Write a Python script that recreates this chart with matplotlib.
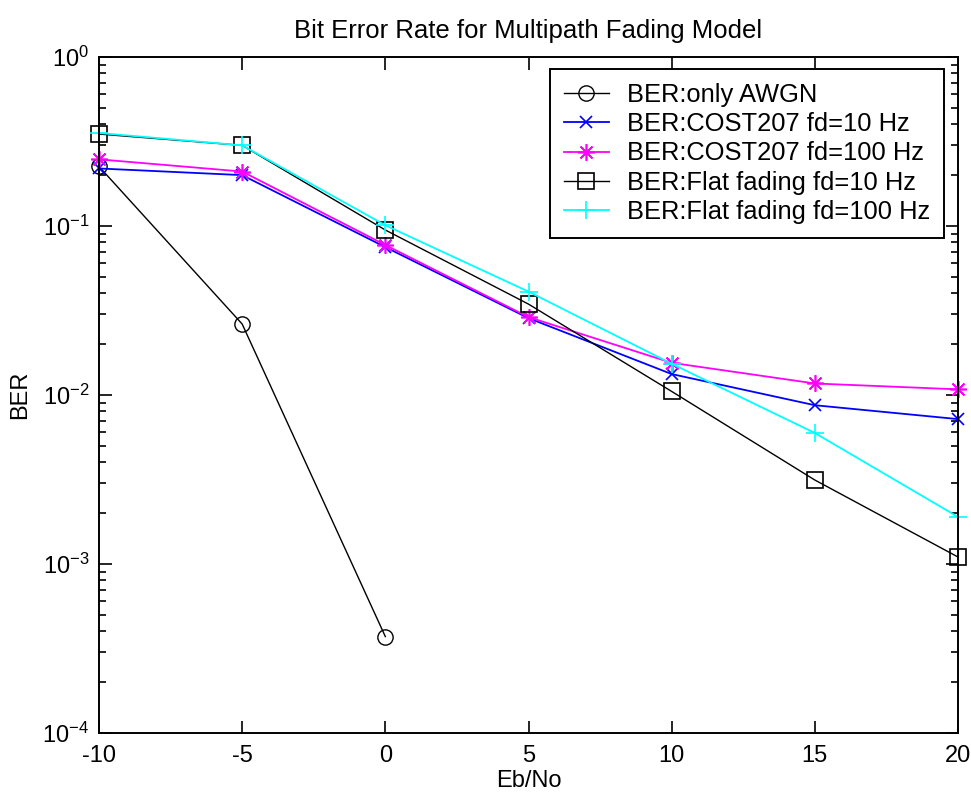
import matplotlib
matplotlib.use("Agg")
import matplotlib.pyplot as plt

plt.rcParams['font.family'] = ['Liberation Sans', 'DejaVu Sans']
plt.rcParams['axes.unicode_minus'] = False

ebno = [-10, -5, 0, 5, 10, 15, 20]
ebno_awgn = [-10, -5, 0]
ber_awgn = [0.225, 0.0263, 3.72e-4]
ber_cost10 = [0.219, 0.200, 0.075, 0.0285, 0.0133, 8.7e-3, 7.2e-3]
ber_cost100 = [0.248, 0.210, 0.0772, 0.0289, 0.0155, 0.0117, 0.0108]
ber_flat10 = [0.35, 0.30, 0.0947, 0.0345, 0.0105, 3.14e-3, 1.10e-3]
ber_flat100 = [0.355, 0.30, 0.101, 0.0409, 0.0153, 5.96e-3, 1.90e-3]

labels = ['BER:only AWGN', 'BER:COST207 fd=10 Hz', 'BER:COST207 fd=100 Hz',
          'BER:Flat fading fd=10 Hz', 'BER:Flat fading fd=100 Hz']

fig = plt.figure(figsize=(9.71, 7.99), dpi=100)
ax = fig.add_axes([99/971, 1-733/799, 859/971, 676/799])

ax.semilogy(ebno_awgn, ber_awgn, color='black', lw=1.0, marker='o', ms=11,
            mfc='none', mec='black', mew=1.0, label=labels[0], clip_on=False)
ax.semilogy(ebno, ber_cost10, color='#0000ff', lw=1.3, marker='x', ms=8,
            mew=1.2, label=labels[1], clip_on=False)
ax.semilogy(ebno, ber_cost100, color='#ff00ff', lw=1.3, marker=(8, 2, 0), ms=12,
            mew=1.2, label=labels[2], clip_on=False)
ax.semilogy(ebno, ber_flat10, color='black', lw=1.0, marker='s', ms=12,
            mfc='none', mec='black', mew=1.2, label=labels[3], clip_on=False)
ax.semilogy(ebno, ber_flat100, color='#00ffff', lw=1.3, marker='+', ms=13,
            mew=1.2, label=labels[4], clip_on=False)

ax.set_xlim(-10, 20)
ax.set_ylim(1e-4, 1e0)
ax.set_xticks([-10, -5, 0, 5, 10, 15, 20])

for s in ax.spines.values():
    s.set_linewidth(1.4)
ax.tick_params(which='both', direction='in', top=True, right=True, width=1.2)
ax.tick_params(which='major', length=9, labelsize=17)
ax.tick_params(which='minor', length=5)
ax.tick_params(axis='x', pad=9)
ax.tick_params(axis='y', pad=7)

ax.set_xlabel('Eb/No', fontsize=17)
ax.set_ylabel('BER', fontsize=17)
ax.xaxis.set_label_coords(0.5, -0.055)
ax.yaxis.set_label_coords(-0.079, 0.5)

fig.text((99 + 958) / 2 / 971, 1 - 31/799, 'Bit Error Rate for Multipath Fading Model',
         ha='center', va='center', fontsize=18.5)

leg = ax.legend(loc='upper right', bbox_to_anchor=(0.9837, 0.982), borderaxespad=0,
                fontsize=18.4, fancybox=False, framealpha=1, edgecolor='black',
                handlelength=1.75, handletextpad=0.7, labelspacing=0.2,
                borderpad=0.55)
leg.get_frame().set_linewidth(1.4)

fig.savefig('out.png', dpi=100)
